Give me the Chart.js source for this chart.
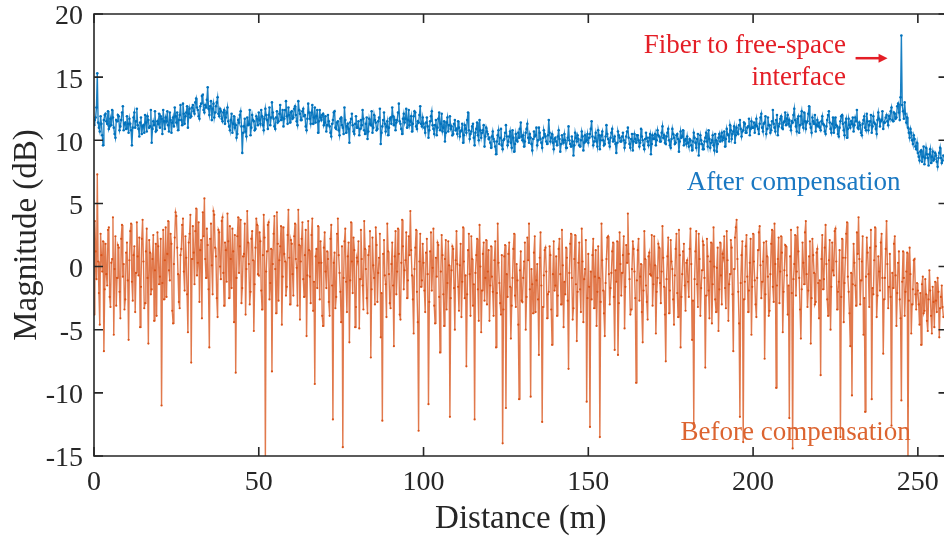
<!DOCTYPE html>
<html>
<head>
<meta charset="utf-8">
<script src="https://cdn.jsdelivr.net/npm/chart.js@4.4.1/dist/chart.umd.min.js"></script>
<style>
  html, body { margin: 0; padding: 0; overflow: hidden; background: #fff; }
  canvas { display: block; }
</style>
</head>
<body>
<canvas id="otdrChart" width="952" height="539"></canvas>
<script>
// sample spacing along the fibre (m), 40 samples per 10 m row below
const step = 0.25;

// magnitude after compensation (dB)
const afterValues = [
  11.2, 11.6, 11.8, 12.6, 15.3, 11.4, 11.0, 10.7, 11.9, 11.3, 10.4, 9.6, 11.6, 12.0, 12.1, 11.5, 11.3, 12.3, 10.9, 11.1, 11.7, 11.2, 12.4, 11.8, 11.0, 10.5, 10.2, 11.6, 11.5, 12.0, 11.9, 10.8, 11.1, 11.6, 12.2, 12.7, 10.8, 11.3, 11.4, 10.9,
  11.9, 11.3, 10.6, 11.7, 11.3, 10.8, 9.6, 11.0, 11.8, 12.2, 11.0, 11.5, 12.5, 11.2, 10.9, 10.3, 11.4, 11.8, 10.5, 11.1, 11.2, 10.6, 12.0, 11.4, 10.7, 11.9, 11.6, 11.0, 11.1, 12.4, 9.8, 10.9, 11.5, 11.2, 12.3, 10.7, 10.8, 11.5, 11.3, 12.1,
  11.0, 11.9, 11.7, 10.5, 12.4, 11.5, 10.9, 11.8, 11.5, 12.3, 11.2, 10.7, 12.2, 11.6, 10.6, 11.4, 11.8, 11.1, 12.6, 11.9, 11.4, 12.2, 10.8, 11.6, 12.0, 12.8, 11.6, 11.2, 12.9, 12.1, 11.3, 11.9, 12.2, 12.7, 11.0, 12.1, 12.5, 11.8, 11.9, 12.6,
  12.8, 12.3, 12.1, 13.0, 13.3, 12.6, 12.4, 11.9, 11.7, 12.7, 12.9, 13.5, 13.6, 12.4, 12.2, 12.8, 12.6, 13.2, 14.2, 12.5, 12.0, 12.7, 13.1, 11.6, 12.5, 12.9, 11.8, 12.2, 12.7, 13.0, 13.4, 12.1, 11.9, 12.5, 12.3, 11.7, 11.5, 12.2, 12.4, 11.3,
  11.8, 12.2, 12.6, 11.5, 11.1, 10.8, 11.6, 12.1, 10.6, 11.3, 11.9, 11.0, 11.2, 10.2, 10.5, 11.6, 11.4, 12.0, 12.3, 11.1, 9.0, 10.6, 11.1, 11.7, 10.7, 10.3, 11.8, 11.2, 11.3, 12.4, 10.4, 11.0, 12.0, 11.6, 11.5, 10.8, 10.9, 11.9, 11.7, 11.2,
  12.2, 11.6, 11.3, 12.4, 11.9, 11.2, 10.8, 11.7, 12.5, 12.0, 11.6, 10.9, 12.0, 12.6, 11.2, 11.8, 13.0, 12.2, 11.7, 11.1, 10.9, 11.8, 12.3, 11.4, 11.5, 12.1, 12.8, 11.6, 11.8, 12.4, 11.1, 11.7, 12.4, 13.1, 11.9, 11.3, 12.6, 12.0, 11.4, 12.2,
  12.3, 11.7, 11.8, 12.5, 12.7, 12.0, 11.5, 11.2, 13.1, 12.4, 12.1, 11.6, 11.6, 12.3, 12.5, 11.9, 12.0, 11.1, 10.8, 11.7, 12.9, 12.2, 11.7, 11.3, 12.2, 12.8, 11.3, 11.8, 12.6, 11.4, 11.9, 12.4, 10.6, 11.5, 12.4, 11.8, 11.6, 12.0, 12.1, 11.2,
  11.4, 11.9, 10.7, 11.2, 12.0, 11.5, 11.1, 10.6, 10.3, 11.3, 11.6, 12.2, 12.3, 11.0, 10.9, 11.4, 11.5, 10.8, 10.4, 11.7, 11.8, 11.2, 11.0, 10.5, 12.6, 11.6, 10.6, 11.1, 11.3, 10.9, 9.8, 11.4, 11.7, 12.1, 11.2, 10.7, 10.5, 11.3, 11.9, 11.0,
  11.0, 11.5, 10.4, 10.9, 11.6, 11.2, 12.4, 11.7, 10.8, 10.5, 11.3, 11.8, 10.1, 10.7, 11.7, 11.3, 11.2, 12.3, 10.6, 11.0, 12.0, 11.6, 11.4, 10.8, 10.9, 11.5, 11.8, 12.5, 9.7, 10.6, 11.1, 11.6, 12.2, 11.3, 10.7, 11.1, 11.5, 10.4, 11.0, 11.7,
  11.8, 11.3, 12.6, 11.9, 11.2, 11.6, 10.8, 11.4, 11.6, 12.2, 12.9, 11.5, 11.3, 10.9, 10.5, 11.7, 12.1, 11.4, 11.7, 12.5, 11.0, 11.6, 12.4, 11.2, 11.5, 11.9, 10.7, 11.3, 11.9, 12.3, 12.2, 11.1, 10.9, 11.5, 11.4, 12.0, 12.7, 11.3, 11.1, 11.8,
  11.3, 11.0, 10.6, 11.4, 11.8, 11.1, 10.2, 10.8, 11.5, 11.9, 12.3, 11.2, 10.9, 10.5, 11.2, 11.6, 10.4, 11.0, 11.7, 12.2, 10.8, 11.3, 12.1, 10.7, 11.0, 11.5, 9.9, 10.6, 11.4, 11.8, 10.7, 11.2, 11.9, 10.9, 11.1, 10.4, 10.5, 11.3, 11.6, 10.8,
  10.9, 10.5, 11.5, 11.0, 10.3, 10.7, 10.8, 11.3, 9.8, 10.4, 11.2, 10.9, 10.6, 11.6, 12.2, 10.8, 10.1, 10.5, 10.7, 11.1, 11.3, 10.2, 9.6, 10.6, 10.9, 11.4, 10.4, 10.0, 11.6, 10.8, 10.2, 10.6, 10.8, 11.2, 9.5, 10.3, 11.0, 10.7, 10.5, 10.1,
  10.2, 9.8, 9.4, 10.3, 10.7, 10.1, 9.9, 9.5, 8.9, 9.9, 10.4, 10.8, 9.7, 10.2, 10.9, 9.6, 9.3, 10.0, 10.1, 10.6, 11.2, 10.3, 9.6, 9.9, 10.3, 10.7, 9.8, 9.4, 10.8, 10.2, 9.1, 9.7, 10.5, 10.0, 9.9, 10.6, 10.2, 10.9, 11.4, 10.3,
  10.0, 10.4, 9.5, 9.9, 10.6, 10.9, 11.3, 10.2, 9.8, 10.5, 10.2, 9.7, 9.2, 10.1, 10.7, 10.3, 10.4, 11.0, 9.6, 10.0, 11.0, 10.6, 10.1, 9.8, 9.4, 10.2, 10.8, 10.5, 10.3, 9.9, 9.7, 10.4, 11.6, 10.6, 9.9, 10.2, 10.5, 9.8, 9.3, 10.1,
  10.2, 9.9, 9.6, 10.3, 10.8, 10.1, 9.1, 9.7, 10.4, 10.0, 9.8, 10.5, 10.0, 9.4, 9.4, 10.2, 11.1, 10.0, 9.7, 9.5, 10.3, 9.9, 8.8, 9.6, 10.6, 10.2, 9.9, 10.4, 10.1, 9.6, 9.5, 10.0, 10.7, 10.3, 9.2, 9.8, 10.4, 9.9, 10.0, 10.5,
  9.8, 10.2, 10.5, 10.9, 11.5, 10.3, 9.6, 9.9, 10.2, 10.6, 9.9, 9.5, 10.8, 10.4, 9.3, 10.0, 10.4, 10.7, 10.0, 9.6, 9.7, 10.3, 11.2, 10.5, 10.1, 9.8, 9.5, 10.2, 10.6, 10.9, 9.9, 10.1, 10.3, 9.7, 9.0, 9.8, 10.7, 10.4, 10.2, 9.9,
  9.9, 10.3, 10.6, 10.0, 9.4, 9.8, 10.3, 10.7, 11.0, 10.2, 9.7, 9.4, 10.1, 10.5, 9.2, 9.9, 10.5, 10.1, 9.8, 10.4, 10.4, 10.0, 9.5, 9.8, 10.9, 10.3, 10.0, 9.6, 9.3, 10.1, 10.6, 10.2, 9.9, 9.6, 10.2, 10.5, 8.9, 9.7, 10.4, 10.1,
  10.1, 10.5, 9.6, 10.0, 10.8, 10.4, 10.3, 9.9, 9.9, 10.6, 11.1, 10.2, 10.4, 9.8, 9.7, 10.3, 10.6, 10.9, 10.0, 9.6, 9.4, 10.1, 10.9, 10.5, 10.2, 9.7, 9.8, 10.4, 10.5, 10.1, 9.1, 9.9, 10.7, 10.2, 10.3, 10.8, 9.6, 10.0, 10.1, 9.7,
  10.3, 9.8, 9.5, 10.1, 10.0, 9.6, 9.2, 9.9, 10.6, 10.2, 9.8, 9.4, 10.1, 10.5, 8.8, 9.7, 10.4, 10.0, 9.7, 9.3, 9.3, 9.9, 10.2, 10.6, 9.9, 9.5, 10.8, 10.1, 9.4, 9.8, 10.0, 10.4, 9.6, 9.2, 10.5, 10.0, 9.1, 9.7, 10.2, 10.5,
  9.9, 10.3, 10.6, 10.0, 10.2, 10.7, 9.5, 10.1, 10.9, 10.5, 10.4, 9.9, 11.2, 10.8, 10.1, 10.5, 10.7, 11.1, 9.8, 10.4, 11.0, 10.6, 10.5, 11.2, 11.6, 10.9, 10.3, 10.7, 10.8, 11.4, 11.3, 10.6, 10.6, 11.0, 11.1, 11.7, 10.4, 10.9, 11.5, 11.0,
  11.0, 11.4, 10.6, 11.2, 11.7, 11.1, 10.9, 10.5, 11.3, 11.8, 12.1, 11.0, 10.7, 11.3, 11.4, 11.9, 10.5, 10.9, 11.8, 11.2, 11.2, 10.6, 10.8, 11.5, 12.4, 11.3, 11.0, 10.7, 11.6, 12.0, 10.4, 11.1, 11.3, 11.7, 11.9, 11.0, 10.9, 11.4, 11.5, 12.2,
  11.2, 11.7, 12.0, 11.3, 11.6, 11.1, 10.8, 11.5, 11.4, 12.0, 12.5, 11.6, 11.1, 10.7, 11.7, 11.9, 10.6, 11.2, 11.9, 12.3, 11.3, 11.0, 12.2, 11.5, 10.9, 11.4, 11.5, 12.1, 12.7, 11.3, 11.0, 10.6, 11.8, 11.5, 11.3, 12.0, 10.7, 11.2, 11.6, 11.1,
  11.4, 11.0, 10.8, 11.5, 11.9, 11.3, 11.2, 10.7, 10.5, 11.1, 11.6, 12.0, 12.3, 11.4, 10.9, 10.6, 11.3, 11.8, 10.6, 11.0, 11.8, 11.2, 11.1, 10.5, 10.3, 11.0, 11.5, 11.9, 12.0, 11.3, 10.8, 10.4, 11.4, 11.7, 10.2, 10.9, 11.7, 11.2, 11.0, 11.5,
  11.3, 11.8, 10.7, 11.2, 11.8, 11.5, 12.4, 11.0, 10.9, 11.4, 11.2, 10.6, 10.4, 11.3, 11.6, 11.9, 11.0, 10.8, 12.1, 11.5, 10.8, 11.2, 11.5, 12.0, 10.6, 11.1, 11.9, 11.4, 11.3, 10.9, 10.5, 11.6, 12.2, 11.7, 11.1, 11.5, 11.6, 12.3, 10.9, 11.4,
  11.4, 11.8, 12.0, 11.5, 11.2, 11.9, 11.7, 12.3, 12.6, 11.6, 11.5, 12.2, 12.1, 11.7, 11.8, 12.7, 12.9, 12.2, 11.6, 13.4, 18.3, 12.8, 12.3, 11.7, 13.0, 12.1, 11.4, 11.8, 11.0, 10.6, 10.2, 10.9, 10.6, 10.0, 9.7, 10.4, 10.1, 9.5, 9.3, 9.8,
  9.0, 8.7, 8.4, 9.1, 9.2, 8.3, 8.7, 9.5, 8.1, 8.6, 9.4, 8.9, 8.6, 8.0, 8.9, 9.3, 8.2, 8.7, 9.1, 8.4, 8.5, 9.0, 8.8, 8.3, 7.9, 8.6, 9.0, 9.4, 8.6, 8.2, 8.4, 8.8
];

// magnitude before compensation (dB), same sampling
const beforeValues = [
  -3.8, 3.6, 1.2, -1.0, 7.3, 0.4, -2.1, -4.6, 2.6, 0.9, -0.4, 2.0, -6.7, -1.8, 1.8, -0.6, -1.5, 2.9, 3.1, -2.4, -3.2, 0.3, 0.6, 3.9, -5.4, -0.2, 2.4, -3.1, -0.9, 1.7, 1.5, -2.0, -4.1, 2.2, 3.3, -0.8, 0.2, -3.4, -2.6, 1.1,
  1.9, -1.1, -5.8, 0.5, 2.8, 3.4, -1.2, -2.7, 0.9, 1.6, -3.6, -0.5, 3.5, 0.8, -0.7, 2.3, -4.8, -1.6, 2.2, 3.7, 0.4, -3.3, -2.9, 1.2, 3.0, -0.9, -6.1, 2.1, 1.1, -2.2, -1.8, 0.6, 2.5, -4.3, -0.3, 1.8, -3.9, 2.7, 1.6, -1.4,
  -0.8, 2.2, -11.0, -1.3, 2.9, -2.6, 0.5, 3.1, -2.4, 1.0, 3.6, -0.3, -1.1, 2.6, 1.8, -3.5, -4.5, 0.2, 2.3, 4.3, 4.0, 1.5, -0.6, -2.8, -3.3, 0.9, 1.4, 3.3, 3.8, -0.4, -1.9, 2.4, 0.7, -2.2, -5.2, 1.9, 2.6, 4.1, -7.6, 0.6,
  3.2, 1.1, -1.4, 2.8, 4.6, -0.7, 0.3, 3.5, -2.8, 1.3, 2.1, -4.1, 4.3, 2.4, 5.4, 0.6, -0.9, 3.0, 1.7, -1.8, -6.4, 2.2, 3.4, 0.1, -2.2, 4.4, 4.1, 1.5, 0.8, -2.5, -4.0, 2.9, 2.7, 0.0, -1.0, 3.6, 3.9, -0.5, -3.1, 1.9,
  1.3, -1.2, 4.2, 2.0, -2.5, 3.2, 0.6, -1.7, 3.0, 1.2, -4.4, 2.5, -8.4, -0.9, 2.4, 3.9, -0.5, 1.6, 3.7, -2.9, -1.7, 0.8, 1.0, 3.4, -3.8, -0.2, 4.4, 1.9, 0.2, -3.0, -2.0, 2.2, 2.8, 0.5, -5.1, -1.4, 1.5, 3.8, 3.3, -0.6,
  -0.7, 2.7, 2.0, -1.9, -3.4, 0.9, 4.1, 2.3, -15.5, -0.4, 1.2, 3.3, 3.5, -2.6, -1.3, 1.4, -8.3, 0.2, 2.6, 4.0, -0.2, -3.7, 4.3, 1.8, -2.7, 0.5, 1.6, 3.2, -4.6, -0.8, 3.1, 1.0, 0.4, -2.3, -1.6, 2.5, 4.5, 0.7, -3.0, 2.1,
  1.8, -0.6, -2.3, 2.4, 3.4, 0.6, -0.1, -3.1, 4.5, 1.7, -4.2, 0.4, 2.2, 3.5, -1.0, -2.4, 0.9, 2.9, -5.5, -0.7, 3.6, 1.3, -0.8, -2.9, 2.5, 3.8, -3.5, -1.2, -9.3, 0.8, 1.4, -1.7, 3.2, 0.3, -2.6, 2.0, 0.3, -3.9, -4.7, 1.5,
  2.7, -0.4, -1.7, 1.2, 0.6, -2.8, -3.9, 2.2, 3.3, -1.5, -12.1, 0.3, 1.1, -3.3, -2.4, 2.6, 3.8, 0.9, -0.5, -2.0, -4.4, 1.6, -14.3, -0.9, 2.0, 3.0, -1.2, -3.6, 0.8, 1.9, -6.0, -1.1, 3.5, 0.4, -2.1, 2.3, 1.3, -4.8, -3.2, 0.7,
  0.4, 2.0, -4.9, -1.0, 2.9, 0.6, -1.5, -3.4, 3.6, 1.4, -0.2, -2.5, -3.7, 0.9, 1.6, 2.8, -7.2, -1.8, 2.3, 0.1, -0.9, -3.0, 3.1, 1.7, -2.8, -0.5, 0.7, 2.6, -5.6, -2.1, -12.2, 1.0, 2.1, -0.7, -1.4, -4.0, 3.4, 1.2, -0.6, -2.9,
  -3.3, 0.2, 1.9, -1.5, -6.3, 0.8, 2.8, -2.2, -0.4, 3.0, 1.0, -3.8, -4.2, 0.3, 3.7, 1.6, -1.8, -0.3, 0.5, 2.7, -2.5, -1.1, 2.4, 0.9, 4.4, 1.3, -0.7, -2.6, -5.3, -0.2, 1.5, 2.9, -2.0, -4.4, -13.0, 0.4, 2.6, -1.6, -1.1, 1.8,
  0.3, -1.9, -3.6, 1.1, 2.2, -0.6, -10.9, -2.8, 1.2, 2.7, -1.9, -0.1, 3.0, -3.1, -4.5, 0.7, -0.8, 1.9, 1.7, -2.4, -6.8, -0.4, 2.5, 0.9, -2.2, -4.7, 0.6, 2.1, -3.4, -1.3, 2.0, 0.1, -11.9, -2.5, -0.3, 1.6, 1.4, -1.7, -5.0, 0.5,
  2.8, 0.2, -1.6, -3.5, 0.1, 1.8, -4.0, -1.2, 3.1, 0.4, -2.5, -0.7, -7.9, -2.2, 1.3, 2.6, -0.6, -3.9, 2.4, 0.6, -3.1, -1.4, -12.1, -0.5, 0.9, 2.2, -1.8, -4.3, 3.3, 0.0, -5.2, -1.9, 1.0, 1.9, -2.7, -0.9, 2.1, -3.0, -0.4, 1.3,
  -4.3, -1.5, 1.6, -0.8, -2.0, -3.9, 0.5, 2.0, -6.4, -2.1, 3.4, 0.3, -1.3, -2.9, -3.8, 0.9, -14.0, -3.4, 0.8, 1.7, -11.2, -0.6, -2.4, 1.0, 1.9, -1.6, -5.7, -3.1, -0.9, 1.4, 2.6, -2.3, -3.2, 0.2, -1.1, -4.6, -10.5, -0.3, 1.2, -2.7,
  -2.8, -0.9, 0.4, 1.9, -5.0, -2.4, 2.3, 0.5, 3.4, -1.8, -10.3, -0.2, -1.4, -3.7, 1.1, 2.4, -3.6, -1.1, 0.2, -2.6, -7.0, 0.7, 2.7, -1.5, -12.3, -3.2, -0.7, 1.3, 1.5, -0.4, -4.1, -2.2, -2.0, 1.6, 0.9, -3.4, -6.2, -0.6, 2.0, -1.9,
  -1.5, 0.8, -3.9, -2.3, 1.4, 2.2, -0.6, -3.0, 2.9, 0.1, -4.8, -1.2, -2.2, 1.5, 0.7, -2.7, -8.1, -0.5, 1.8, 2.6, -0.9, -4.2, -3.3, 0.6, 2.5, -1.4, -5.9, -2.0, 0.3, 1.9, -1.8, -3.6, 3.0, 0.4, -4.4, -1.0, -0.2, 2.1, -10.7, -2.5,
  1.0, -1.6, -12.7, -0.4, -2.6, 0.9, 2.2, -3.3, -0.8, 1.3, -4.7, -2.0, 1.6, -0.9, -13.5, -2.8, 3.4, 0.5, -1.9, -3.7, -5.5, -1.3, 0.6, 2.3, 2.4, -0.6, -3.0, -1.7, -0.5, 1.2, 1.9, -2.4, -6.6, -0.3, -1.2, 2.0, -7.0, -2.9, 2.7, 0.2,
  -2.3, -0.5, 0.9, 2.4, -4.9, -1.6, 1.7, 0.3, 4.2, 1.0, -1.0, -3.8, -3.4, -0.2, 2.0, 1.4, -0.4, -2.5, -9.2, -1.1, 1.3, 2.2, -2.7, -0.8, 0.2, -3.6, -6.0, -1.9, 2.8, 0.6, -1.5, -2.8, -4.2, 0.8, 1.1, -0.6, -0.7, 2.5, -3.1, -1.4,
  2.4, 0.1, -5.3, -2.0, -0.9, 1.8, 1.5, -1.3, -2.9, -0.4, 3.2, 0.7, -1.6, -3.8, -7.5, -1.0, 0.8, 2.3, -3.7, -1.9, 2.1, 0.4, -0.2, -2.6, -4.6, -0.7, 1.4, 2.6, -2.1, -4.0, 2.9, 0.9, -6.4, -2.4, -0.6, 1.2, 1.8, -1.5, -3.5, 0.3,
  0.5, -1.2, -2.4, 1.4, 3.0, 0.2, -5.8, -2.7, -12.4, -1.0, 1.2, 2.8, -1.4, -3.2, 2.6, 0.6, -3.9, -1.7, -0.3, 2.0, 1.7, -0.9, -8.0, -2.3, 2.2, 0.8, -1.9, -4.1, 0.4, 1.9, -4.5, -1.4, 3.1, 0.0, -2.6, -3.6, -0.1, 1.5, -5.1, -1.8,
  1.9, -0.7, -3.0, 1.0, 0.7, 2.4, -1.7, -3.3, 2.8, 0.5, -4.3, -1.4, -0.6, 2.1, 1.5, -2.2, -6.7, -0.2, 2.3, 3.1, 3.7, 0.6, -2.0, -4.5, -11.9, -1.3, 0.9, 2.0, -13.9, -2.6, -1.2, 1.6, 2.5, -0.8, -3.6, -1.9, 0.3, 2.2, -5.4, -1.6,
  2.6, 0.4, -1.1, -3.0, -4.0, -0.9, 1.3, 2.7, 3.2, 0.1, -2.5, -1.2, 0.4, 1.9, -7.3, -2.2, 2.0, 0.8, -0.8, -3.9, -3.5, -0.6, 1.8, 2.9, -1.6, -2.8, 3.4, 0.2, -9.6, -1.5, 0.6, 2.3, -2.9, -0.4, 2.4, 1.1, -5.2, -2.0, -0.3, 1.7,
  1.6, -0.7, -3.8, -1.5, -12.0, 0.8, 2.9, -2.1, -14.4, -1.0, 0.2, 2.5, -2.3, -0.4, 3.1, 1.2, -0.9, -3.4, -5.7, -1.8, 1.9, 0.3, -1.4, 2.7, 3.6, -0.6, -3.2, -1.9, 0.8, 2.0, -6.1, -2.5, 2.2, 0.9, -0.5, -3.0, -2.8, 1.1, 1.4, -1.3,
  -4.1, -1.1, -8.6, 0.6, 2.5, -1.8, -1.0, 1.5, 3.3, 0.2, -2.6, -3.9, 0.5, 2.1, -5.0, -1.6, 1.9, -0.3, -0.7, 2.8, 3.0, 0.4, -3.4, -2.0, -1.2, 1.3, -13.5, -2.4, 2.2, 0.7, -4.4, -1.3, 0.7, 2.6, 3.5, -0.8, -2.0, -3.7, -6.3, -0.5,
  -10.2, -1.4, 1.8, 0.3, -1.5, -3.1, 2.7, 1.0, 3.9, 0.6, -3.0, -1.1, 0.4, 2.4, -5.4, -2.5, -11.5, -0.8, 2.3, 1.1, -0.6, -3.2, 1.5, 2.9, -10.5, -1.7, -2.2, 0.5, 3.1, 1.6, -4.0, -2.3, 0.8, -0.4, -1.9, 1.9, 2.6, -0.9, -6.9, -2.6,
  -0.9, 1.4, 3.6, 0.2, -3.3, -1.6, 1.0, -2.4, -12.6, -0.5, -1.7, 1.8, 2.4, -0.7, -4.7, -2.1, 0.3, 1.2, -2.6, -4.1, -10.6, -1.2, 1.2, -0.9, -3.9, -2.0, -0.4, 1.1, -16.0, -2.7, 1.5, -0.6, -5.3, -3.0, -1.8, 0.5, 0.6, -2.2, -3.4, -1.3,
  -1.9, -3.0, -4.6, -2.1, -6.2, -1.4, -0.8, -3.7, -3.5, -1.0, -2.2, -4.3, -5.1, -2.6, -0.3, -1.9, -3.9, -5.3, -1.6, -2.8, -4.8, -1.2, -2.7, -3.6, -0.9, -2.0, -5.6, -3.3, -2.4, -1.5, -3.2, -4.0
];

const xTicks = [0, 50, 100, 150, 200, 250];
const yTicks = [-15, -10, -5, 0, 5, 10, 15, 20];

const toPoints = vals => vals.map((v, i) => ({ x: i * step, y: v }));

const serif = '"Liberation Serif", "Times New Roman", serif';
const axisColor = '#262626';

// box around the plot with inward tick marks, plus the text labels and arrow
const framePlugin = {
  id: 'frame',
  afterDraw(chart) {
    const { ctx, chartArea: a, scales: { x, y } } = chart;
    const tl = 9;
    ctx.save();
    ctx.strokeStyle = axisColor;
    ctx.lineWidth = 1.6;
    ctx.beginPath();
    ctx.rect(a.left, a.top, a.right - a.left, a.bottom - a.top);
    ctx.stroke();
    ctx.beginPath();
    xTicks.forEach(v => {
      const px = x.getPixelForValue(v);
      ctx.moveTo(px, a.bottom); ctx.lineTo(px, a.bottom - tl);
      ctx.moveTo(px, a.top); ctx.lineTo(px, a.top + tl);
    });
    yTicks.forEach(v => {
      const py = y.getPixelForValue(v);
      ctx.moveTo(a.left, py); ctx.lineTo(a.left + tl, py);
      ctx.moveTo(a.right, py); ctx.lineTo(a.right - tl, py);
    });
    ctx.stroke();

    ctx.font = '27px ' + serif;
    ctx.textBaseline = 'alphabetic';
    ctx.fillStyle = '#e41e26';
    ctx.textAlign = 'right';
    ctx.fillText('Fiber to free-space', x.getPixelForValue(228.2), y.getPixelForValue(16.9));
    ctx.fillText('interface', x.getPixelForValue(228.2), y.getPixelForValue(14.4));

    // arrow pointing at the spike
    const ay = y.getPixelForValue(16.5);
    const ax0 = x.getPixelForValue(231.1), ax1 = x.getPixelForValue(240.8);
    ctx.strokeStyle = '#e41e26';
    ctx.lineWidth = 2.5;
    ctx.beginPath();
    ctx.moveTo(ax0, ay); ctx.lineTo(ax1 - 6, ay);
    ctx.stroke();
    ctx.beginPath();
    ctx.moveTo(ax1, ay); ctx.lineTo(ax1 - 9, ay - 4.5); ctx.lineTo(ax1 - 9, ay + 4.5);
    ctx.closePath();
    ctx.fill();

    ctx.textAlign = 'left';
    ctx.fillStyle = '#1a78c2';
    ctx.fillText('After compensation', x.getPixelForValue(179.9), y.getPixelForValue(6.1));
    ctx.fillStyle = '#dc6430';
    ctx.fillText('Before compensation', x.getPixelForValue(178.0), y.getPixelForValue(-13.7));
    ctx.restore();
  }
};

new Chart(document.getElementById('otdrChart'), {
  type: 'line',
  data: {
    datasets: [
      {
        label: 'Before compensation',
        data: toPoints(beforeValues),
        borderColor: 'rgba(217, 83, 25, 0.78)',
        backgroundColor: '#d95319',
        borderWidth: 1.4,
        pointRadius: 1.1,
        pointBorderWidth: 0,
        pointBackgroundColor: '#d95319',
        tension: 0
      },
      {
        label: 'After compensation',
        data: toPoints(afterValues),
        borderColor: 'rgba(0, 114, 189, 0.9)',
        backgroundColor: '#0072bd',
        borderWidth: 1.4,
        pointRadius: 1.3,
        pointBorderWidth: 0,
        pointBackgroundColor: '#0072bd',
        tension: 0
      }
    ]
  },
  options: {
    responsive: false,
    animation: false,
    events: [],
    layout: { padding: { top: 14, right: 4, bottom: 0, left: 0 } },
    plugins: { legend: { display: false }, tooltip: { enabled: false } },
    scales: {
      x: {
        type: 'linear',
        min: 0,
        max: 259,
        grid: { display: false, drawTicks: false },
        border: { display: false },
        afterBuildTicks: scale => { scale.ticks = xTicks.map(v => ({ value: v })); },
        afterFit: scale => { scale.height = 83; },
        ticks: {
          padding: 13,
          maxRotation: 0,
          color: axisColor,
          font: { family: serif, size: 28, lineHeight: 1 }
        },
        title: {
          display: true,
          text: 'Distance (m)',
          color: axisColor,
          padding: { top: 0, bottom: 0 },
          font: { family: serif, size: 33 }
        }
      },
      y: {
        min: -15,
        max: 20,
        grid: { display: false, drawTicks: false },
        border: { display: false },
        afterBuildTicks: scale => { scale.ticks = yTicks.map(v => ({ value: v })); },
        afterFit: scale => { scale.width = 94; },
        ticks: {
          padding: 11,
          labelOffset: 3,
          color: axisColor,
          // small line height keeps the top label from pushing the plot area down
          font: { family: serif, size: 28, lineHeight: 0.2 }
        },
        title: {
          display: true,
          text: 'Magnitude (dB)',
          color: axisColor,
          padding: { top: 8, bottom: 0 },
          font: { family: serif, size: 33 }
        }
      }
    }
  },
  plugins: [framePlugin]
});
</script>
</body>
</html>
